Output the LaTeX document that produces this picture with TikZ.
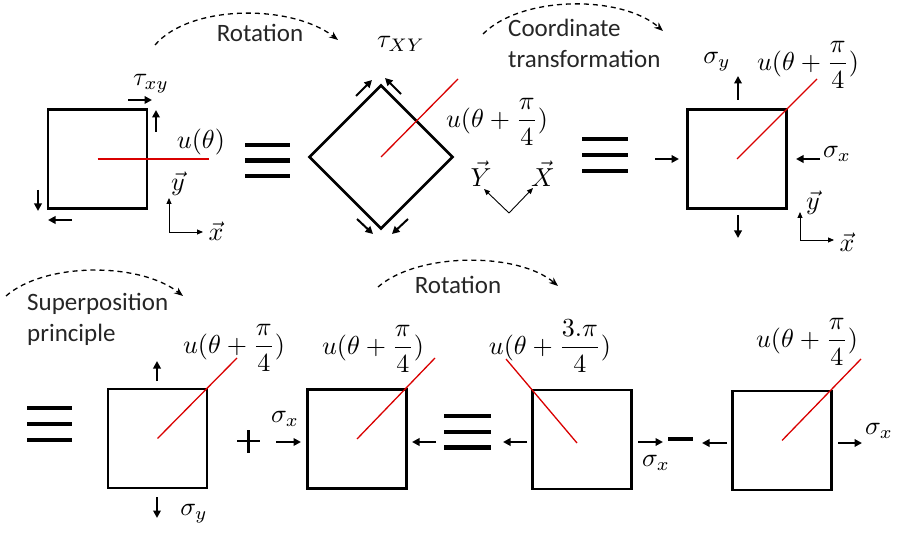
\documentclass[tikz,border=0pt]{standalone}
\usepackage{amsmath}
\usepackage{graphicx}
\usepackage{fontspec}
\setmainfont{Carlito}
\usetikzlibrary{arrows.meta}
\newcommand{\mlab}[1]{\scalebox{2.6}{$#1$}}
\begin{document}
\begin{tikzpicture}[x=1pt,y=-1pt,
 box/.style={draw, line width=2.7pt, minimum size=99pt, inner sep=0pt},
 redl/.style={draw=red!85!black, line width=1.3pt},
 force/.style={line width=2pt, -{Triangle[length=7.5pt,width=7.5pt]}},
 ax/.style={line width=0.9pt, -{Triangle[length=6pt,width=5pt]}},
 bar/.style={line width=4.5pt},
 arcarrow/.style={dashed, dash pattern=on 5pt off 4pt, line width=1.3pt, -{Stealth[length=9pt,width=7pt]}},
 lbl/.style={font=\fontsize{25}{31}\selectfont, text=black!85, inner sep=0pt},
 mth/.style={inner sep=0pt},
]
\useasboundingbox (0,0) rectangle (899,534);

% ---------- top row ----------
\node[box] (s1) at (97.5,159) {};
\node[box, rotate=45, minimum size=101pt] (d1) at (381,157) {};
\node[box] (s3) at (737,159) {};

\coordinate (r1) at (209,159);
\draw[redl] (s1.center) -- (r1);
\coordinate (r2) at (458,79);
\draw[redl] (d1.center) -- (r2);
\coordinate (r3) at (817,79);
\draw[redl] (s3.center) -- (r3);

% shear arrows square 1
\coordinate (a1s) at (128,100); \coordinate (a1e) at (152,100);
\coordinate (a2s) at (156,132); \coordinate (a2e) at (156,110);
\coordinate (a3s) at (38,190);  \coordinate (a3e) at (38,211);
\coordinate (a4s) at (72,220);  \coordinate (a4e) at (48,220);
\draw[force] (a1s) -- (a1e);
\draw[force] (a2s) -- (a2e);
\draw[force] (a3s) -- (a3e);
\draw[force] (a4s) -- (a4e);

% shear arrows diamond
\coordinate (b1s) at (356,96);  \coordinate (b1e) at (372,80);
\coordinate (b2s) at (401,94);  \coordinate (b2e) at (385,78);
\coordinate (b3s) at (357,219); \coordinate (b3e) at (373,234);
\coordinate (b4s) at (408,219); \coordinate (b4e) at (392,234);
\draw[force] (b1s) -- (b1e);
\draw[force] (b2s) -- (b2e);
\draw[force] (b3s) -- (b3e);
\draw[force] (b4s) -- (b4e);

% normal arrows square 3
\coordinate (c1s) at (738,100); \coordinate (c1e) at (738,76);
\coordinate (c2s) at (738,215); \coordinate (c2e) at (738,238);
\coordinate (c3s) at (655,159); \coordinate (c3e) at (679,159);
\coordinate (c4s) at (820,159); \coordinate (c4e) at (796,159);
\draw[force] (c1s) -- (c1e);
\draw[force] (c2s) -- (c2e);
\draw[force] (c3s) -- (c3e);
\draw[force] (c4s) -- (c4e);

% labels top row
\node[mth] (l1) at (201,142) {\mlab{u(\theta)}};
\node[mth] (t1) at (151,84) {\mlab{\tau_{xy}}};
\node[mth] (l2) at (497,122) {\mlab{u(\theta+\dfrac{\pi}{4})}};
\node[mth] (t2) at (401,44) {\mlab{\tau_{XY}}};
\node[mth] (l3) at (808,65) {\mlab{u(\theta+\dfrac{\pi}{4})}};
\node[mth] (sy3) at (717,62) {\mlab{\sigma_y}};
\node[mth] (sx3) at (837,154) {\mlab{\sigma_x}};

% axes
\coordinate (o1) at (169,232); \coordinate (o1y) at (169,198); \coordinate (o1x) at (203,232);
\draw[ax] (o1) -- (o1y); \draw[ax] (o1) -- (o1x);
\node[mth] (o1yl) at (178,184) {\mlab{\vec{y}}};
\node[mth] (o1xl) at (216,231) {\mlab{\vec{x}}};

\coordinate (o2) at (509,213); \coordinate (o2X) at (533,188); \coordinate (o2Y) at (484,189);
\draw[ax] (o2) -- (o2X); \draw[ax] (o2) -- (o2Y);
\node[mth] (o2Yl) at (481,174) {\mlab{\vec{Y}}};
\node[mth] (o2Xl) at (543,174) {\mlab{\vec{X}}};

\coordinate (o3) at (800,240); \coordinate (o3y) at (800,212); \coordinate (o3x) at (834,240);
\draw[ax] (o3) -- (o3y); \draw[ax] (o3) -- (o3x);
\node[mth] (o3yl) at (813,203) {\mlab{\vec{y}}};
\node[mth] (o3xl) at (847,242) {\mlab{\vec{x}}};

% equivalence bars top
\foreach \yy in {145,160.5,176} \draw[bar] (245,\yy) -- (290,\yy);
\foreach \yy in {139,155,171} \draw[bar] (582,\yy) -- (628,\yy);

% arcs top
\coordinate (p1s) at (155,45); \coordinate (p1e) at (338,40);
\draw[arcarrow] (p1s) .. controls (190,4) and (292,4) .. (p1e);
\node[lbl] (rot1) at (260,33) {Rotation};
\coordinate (p2s) at (483,34); \coordinate (p2e) at (663,31);
\draw[arcarrow] (p2s) .. controls (522,-5) and (622,-5) .. (p2e);
\node[lbl, anchor=west, align=left] (coord) at (508,43) {Coordinate\\transformation};

% ---------- bottom row ----------
\node[box] (s4) at (157.5,438.5) {};
\node[box] (s5) at (357,439) {};
\node[box] (s6) at (582,439.5) {};
\node[box] (s7) at (782,440.5) {};

\coordinate (r4) at (237,358);
\draw[redl] (s4.center) -- (r4);
\coordinate (r5) at (435,358);
\draw[redl] (s5.center) -- (r5);
\coordinate (r6a) at (577,443); \coordinate (r6b) at (506,359);
\draw[redl] (r6a) -- (r6b);
\coordinate (r7) at (861,359);
\draw[redl] (s7.center) -- (r7);

% forces bottom
\coordinate (e1s) at (157,381); \coordinate (e1e) at (157,361);
\coordinate (e2s) at (157,497); \coordinate (e2e) at (157,518);
\draw[force] (e1s) -- (e1e);
\draw[force] (e2s) -- (e2e);
\coordinate (f1s) at (276,442); \coordinate (f1e) at (301,442);
\coordinate (f2s) at (436,442); \coordinate (f2e) at (412,442);
\draw[force] (f1s) -- (f1e);
\draw[force] (f2s) -- (f2e);
\coordinate (g1s) at (527,442); \coordinate (g1e) at (503,442);
\coordinate (g2s) at (638,442); \coordinate (g2e) at (663,442);
\draw[force] (g1s) -- (g1e);
\draw[force] (g2s) -- (g2e);
\coordinate (h1s) at (727,443); \coordinate (h1e) at (702,443);
\coordinate (h2s) at (838,443); \coordinate (h2e) at (862,443);
\draw[force] (h1s) -- (h1e);
\draw[force] (h2s) -- (h2e);

% labels bottom
\node[mth] (l4) at (234,348) {\mlab{u(\theta+\dfrac{\pi}{4})}};
\node[mth] (sy4) at (194,514) {\mlab{\sigma_y}};
\node[mth] (sx5) at (285,419) {\mlab{\sigma_x}};
\node[mth] (l5) at (373,349) {\mlab{u(\theta+\dfrac{\pi}{4})}};
\node[mth] (l6) at (550,346) {\mlab{u(\theta+\dfrac{3.\pi}{4})}};
\node[mth] (sx6) at (656,463) {\mlab{\sigma_x}};
\node[mth] (l7) at (807,342) {\mlab{u(\theta+\dfrac{\pi}{4})}};
\node[mth] (sx7) at (879,431) {\mlab{\sigma_x}};

% equivalence, plus, minus bottom
\foreach \yy in {408,424,440} \draw[bar] (27,\yy) -- (72,\yy);
\foreach \yy in {416,432,447.5} \draw[bar] (444,\yy) -- (491,\yy);
\draw[line width=2.6pt] (237,441) -- (260,441);
\draw[line width=2.6pt] (248.5,430) -- (248.5,453);
\draw[line width=3.2pt] (668,439) -- (693,439);

% arcs bottom
\coordinate (p3s) at (6,296); \coordinate (p3e) at (183,296);
\draw[arcarrow] (p3s) .. controls (45,262) and (140,262) .. (p3e);
\node[lbl, anchor=west, align=left] (sup) at (27,319) {Superposition\\principle};
\coordinate (p4s) at (378,287); \coordinate (p4e) at (558,286);
\draw[arcarrow] (p4s) .. controls (418,252) and (518,252) .. (p4e);
\node[lbl] (rot2) at (458,285) {Rotation};
\end{tikzpicture}
\end{document}
